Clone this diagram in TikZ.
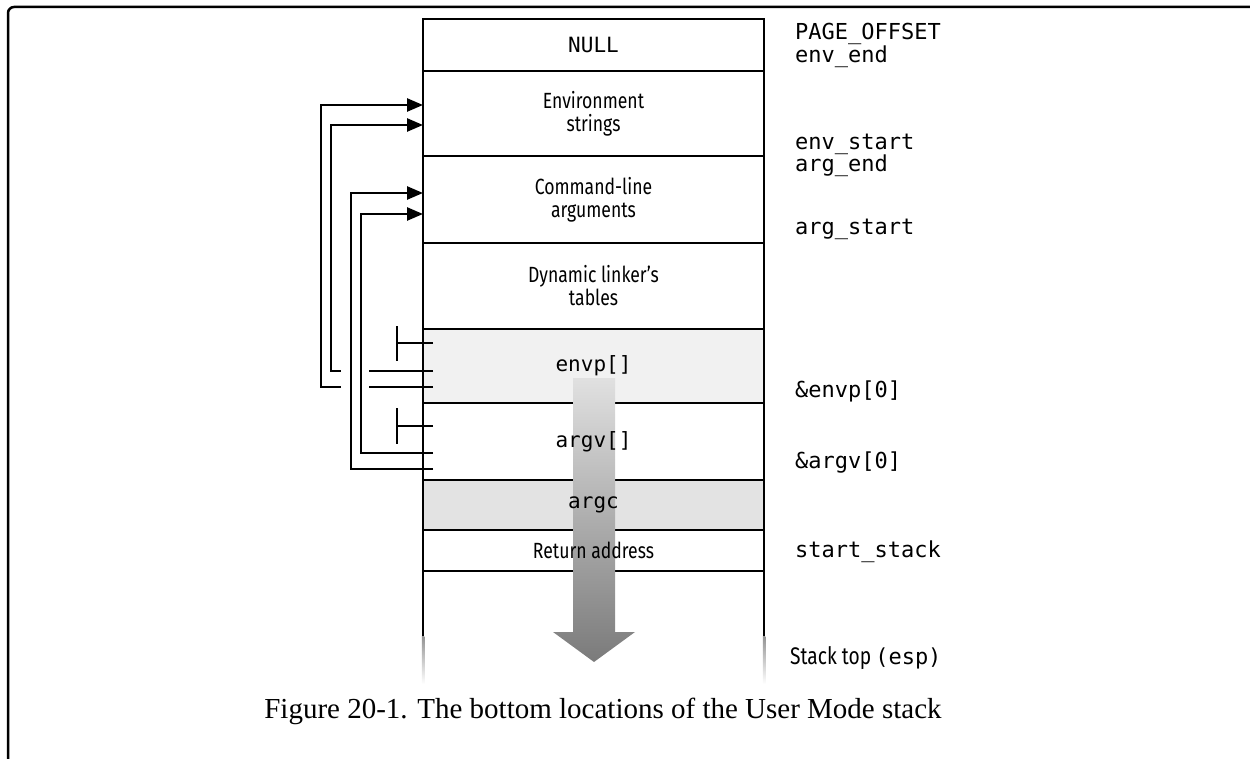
\documentclass[tikz,border=0pt]{standalone}
\usepackage{fontspec}
\setmainfont{Liberation Serif}
\setmonofont{DejaVu Sans Mono}
\newfontfamily\narrowsf[FakeStretch=0.8]{Fira Sans}
\usetikzlibrary{arrows.meta,positioning}
\definecolor{envpgray}{HTML}{F1F1F1}
\definecolor{argcgray}{HTML}{E3E3E3}

\begin{document}
\begin{tikzpicture}[x=1pt,y=-1pt,
		cell/.style={draw,line width=2.5pt,minimum width=341pt,inner sep=0pt,outer sep=0pt,anchor=north},
		celltext/.style={font=\narrowsf\fontsize{22}{23}\selectfont,align=center},
		codetext/.style={font=\ttfamily\fontsize{21}{24}\selectfont},
		addr/.style={anchor=base west,inner sep=0pt,font=\ttfamily\fontsize{22}{24}\selectfont},
		ptr/.style={line width=2.5pt},
		ptrarrow/.style={-{Triangle[length=16pt,width=13pt]}}]
		\useasboundingbox (0,0) rectangle (1250,759);
		% frame
		\draw[line width=2.5pt,rounded corners=6pt] (8,760) -- (8,7) -- (1251,7);
		% stack cells
		\node[cell,minimum height=52pt] (null) at (593.5,19) {};
		\node[cell,minimum height=85pt,below=0pt of null] (env) {};
		\node[cell,minimum height=87pt,below=0pt of env] (cmd) {};
		\node[cell,minimum height=86pt,below=0pt of cmd] (dyn) {};
		\node[cell,minimum height=74pt,fill=envpgray,below=0pt of dyn] (envp) {};
		\node[cell,minimum height=77pt,below=0pt of envp] (argv) {};
		\node[cell,minimum height=50pt,fill=argcgray,below=0pt of argv] (argc) {};
		\node[cell,minimum height=41pt,below=0pt of argc] (ret) {};
		% open end of the stack
		\draw[ptr] (ret.south west) -- ++(0,65);
		\draw[ptr] (ret.south east) -- ++(0,65);
		\shade[top color=black,bottom color=white] ([xshift=-1.25pt]ret.south west) ++(0,65) rectangle ++(2.5,48);
		\shade[top color=black,bottom color=white] ([xshift=-1.25pt]ret.south east) ++(0,65) rectangle ++(2.5,48);
		% growth arrow
		\shade[top color=black!12,bottom color=black!52]
			(573,378) -- (615,378) -- (615,632) -- (635,632) -- (594,662) -- (553,632) -- (573,632) -- cycle;
		% cell texts
		\node[codetext] (nulltxt) at (null) {NULL};
		\node[celltext] (envtxt) at (env) {Environment\\strings};
		\node[celltext] (cmdtxt) at (cmd) {Command-line\\arguments};
		\node[celltext] (dyntxt) at (dyn) {Dynamic linker’s\\tables};
		\node[codetext] (envptxt) at (envp) {envp[]};
		\node[codetext] (argvtxt) at (argv) {argv[]};
		\node[codetext] (argctxt) at (argc) {argc};
		\node[celltext] (rettxt) at (ret) {Return address};
		% envp[] -> environment strings
		\draw[ptr,ptrarrow] ([xshift=10pt,yshift=-21pt]envp.west) -- ++(-112,0) |- ([yshift=8.5pt]env.west);
		\draw[ptr,ptrarrow] ([xshift=10pt,yshift=-5pt]envp.west) -- ++(-102,0) |- ([yshift=-11.5pt]env.west);
		\fill[white] (341,366) rectangle (369,392);
		% argv[] -> command-line arguments
		\draw[ptr,ptrarrow] ([xshift=10pt,yshift=-27.5pt]argv.west) -- ++(-82,0) |- ([yshift=6.5pt]cmd.west);
		\draw[ptr,ptrarrow] ([xshift=10pt,yshift=-11.5pt]argv.west) -- ++(-72,0) |- ([yshift=-14.5pt]cmd.west);
		% NULL ends
		\draw[ptr] ([xshift=10pt,yshift=23pt]envp.west) -- ++(-36,0) ++(0,-17) -- ++(0,35);
		\draw[ptr] ([xshift=10pt,yshift=15.5pt]argv.west) -- ++(-36,0) ++(0,-18) -- ++(0,36);
		% addresses
		\node[addr] (pageoff) at (795,40) {PAGE\_OFFSET};
		\node[addr] (envend) at (795,63) {env\_end};
		\node[addr] (envstart) at (795,150) {env\_start};
		\node[addr] (argend) at (795,172) {arg\_end};
		\node[addr] (argstart) at (795,235) {arg\_start};
		\node[addr] (envpzero) at (795,397) {\&envp[0]};
		\node[addr] (argvzero) at (795,468) {\&argv[0]};
		\node[addr] (startstk) at (795,557) {start\_stack};
		\node[addr] (stktop) at (790,664) {{\narrowsf\fontsize{24}{24}\selectfont Stack top\,}(esp)};
		% caption
		\node[font=\fontsize{29}{32}\selectfont] (caption) at (603,711) {Figure 20-1. The bottom locations of the User Mode stack};
	\end{tikzpicture}
\end{document}
